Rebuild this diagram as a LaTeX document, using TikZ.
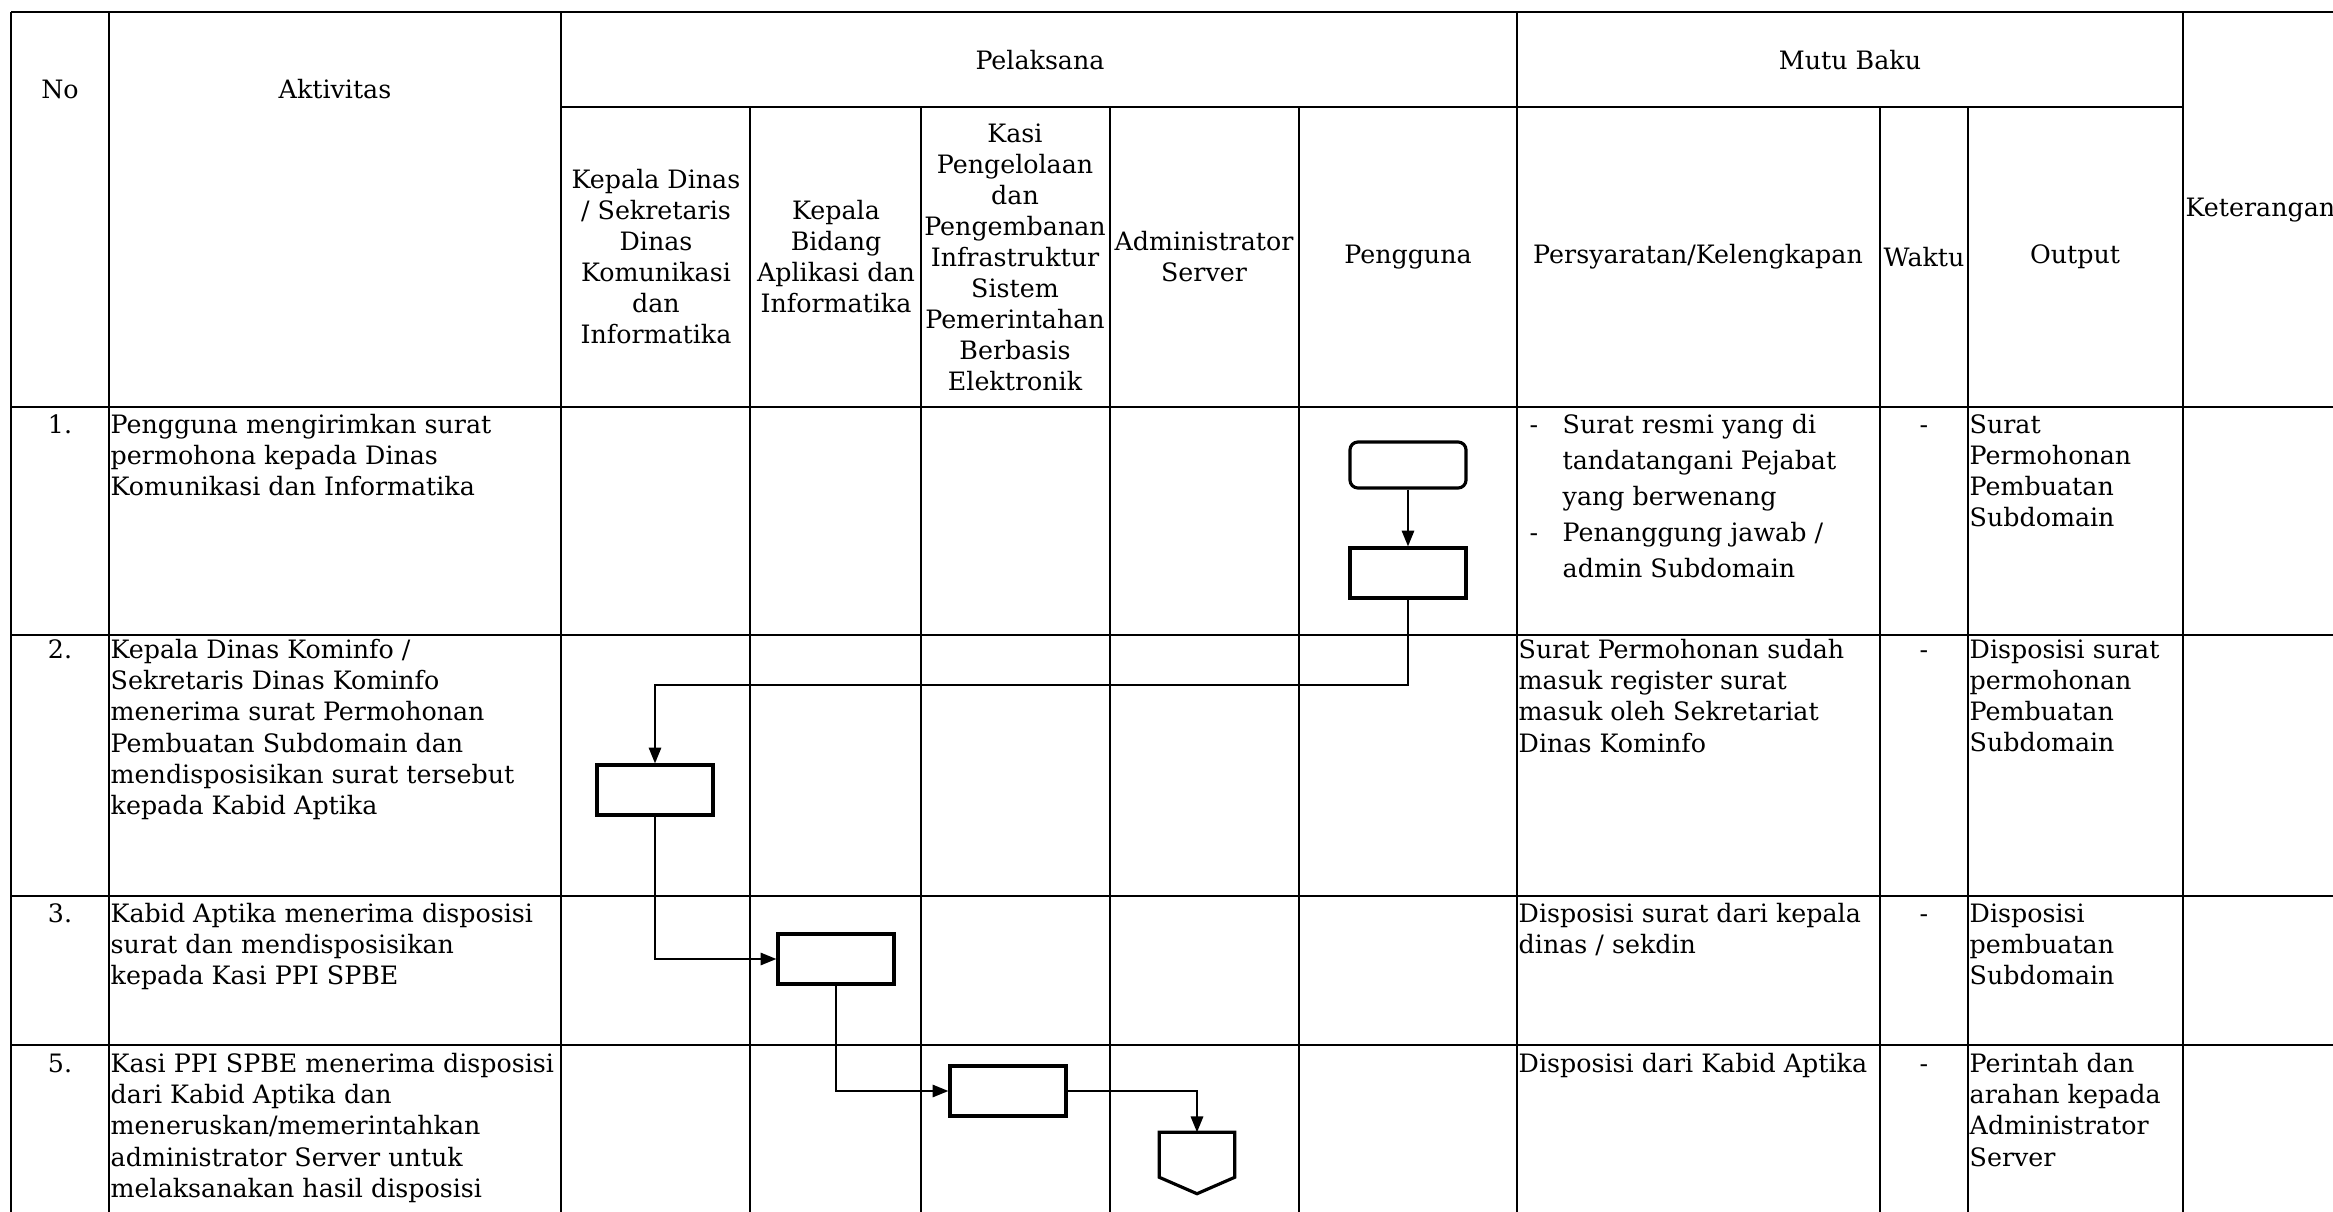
\documentclass[tikz,border=0pt]{standalone}
\usepackage{fontspec}
\setmainfont{DejaVu Serif}
\usetikzlibrary{arrows.meta,calc}
\begin{document}
\begin{tikzpicture}[x=0.01cm,y=-0.01cm,
  tline/.style={line width=0.6pt},
  txt/.style={font=\fontsize{7.2pt}{8.82pt}\selectfont, inner sep=0pt, align=left, anchor=north west},
  hd/.style={font=\fontsize{7.2pt}{8.82pt}\selectfont, inner sep=0pt, align=center},
  dsh/.style={font=\fontsize{7.2pt}{8.82pt}\selectfont, inner sep=0pt, anchor=base},
  lst/.style={font=\fontsize{7.2pt}{10.24pt}\selectfont, inner sep=0pt, align=left, anchor=north west},
  proc/.style={draw, line width=0.9pt, minimum width=1.16cm, minimum height=0.5cm, inner sep=0pt},
  term/.style={proc, minimum height=0.46cm, rounded corners=0.08cm},
  arr/.style={-{Triangle[length=4.5pt,width=3.5pt]}, line width=0.6pt}
]
\useasboundingbox (0,0) rectangle (2333,1212);
% ---------- table lines ----------
\foreach \x in {11,109,561,1517,2183} \draw[tline] (\x,12) -- (\x,1212);
\foreach \x in {750,921,1110,1299,1880,1968} \draw[tline] (\x,107) -- (\x,1212);
\draw[tline] (11,12) -- (2333,12);
\draw[tline] (561,107) -- (2183,107);
\foreach \y in {407,635,896,1045} \draw[line width=0.8pt] (11,\y) -- (2333,\y);
% ---------- header ----------
\node[hd] (hno) at (60,89) {No};
\node[hd] (hakt) at (335,89) {Aktivitas};
\node[hd] (hpel) at (1040,60) {Pelaksana};
\node[hd] (hmutu) at (1850,60) {Mutu Baku};
\node[hd] (hc1) at (656,257) {Kepala Dinas\\/ Sekretaris\\Dinas\\Komunikasi\\dan\\Informatika};
\node[hd] (hc2) at (836,257) {Kepala\\Bidang\\Aplikasi dan\\Informatika};
\node[hd] (hc3) at (1015,257) {Kasi\\Pengelolaan\\dan\\Pengembanan\\Infrastruktur\\Sistem\\Pemerintahan\\Berbasis\\Elektronik};
\node[hd] (hc4) at (1204,257) {Administrator\\Server};
\node[hd] (hc5) at (1408,257) {Pengguna};
\node[hd] (hsyar) at (1698,257) {Persyaratan/Kelengkapan};
\node[hd] (hwak) at (1924,257) {Waktu};
\node[hd] (hout) at (2075,257) {Output};
\node[hd, anchor=west] (hket) at (2185,210) {Keterangan};
% ---------- row numbers ----------
\node[dsh] (n1) at (60,433) {1.};
\node[dsh] (n2) at (60,658) {2.};
\node[dsh] (n3) at (60,922) {3.};
\node[dsh] (n5) at (60,1072) {5.};
% ---------- activities ----------
\node[txt] (a1) at (110,414) {Pengguna mengirimkan surat\\permohona kepada Dinas\\Komunikasi dan Informatika};
\node[txt] (a2) at (110,639) {Kepala Dinas Kominfo /\\Sekretaris Dinas Kominfo\\menerima surat Permohonan\\Pembuatan Subdomain dan\\mendisposisikan surat tersebut\\kepada Kabid Aptika};
\node[txt] (a3) at (110,903) {Kabid Aptika menerima disposisi\\surat dan mendisposisikan\\kepada Kasi PPI SPBE};
\node[txt] (a5) at (110,1053) {Kasi PPI SPBE menerima disposisi\\dari Kabid Aptika dan\\meneruskan/memerintahkan\\administrator Server untuk\\melaksanakan hasil disposisi};
% ---------- requirements ----------
\node[dsh] (d1) at (1534,433) {-};
\node[dsh] (d2) at (1534,541) {-};
\node[lst] (r1) at (1562,414) {Surat resmi yang di\\tandatangani Pejabat\\yang berwenang\\Penanggung jawab /\\admin Subdomain};
\node[txt] (r2) at (1518,639) {Surat Permohonan sudah\\masuk register surat\\masuk oleh Sekretariat\\Dinas Kominfo};
\node[txt] (r3) at (1518,903) {Disposisi surat dari kepala\\dinas / sekdin};
\node[txt] (r5) at (1518,1053) {Disposisi dari Kabid Aptika};
% ---------- waktu ----------
\node[dsh] (w1) at (1924,433) {-};
\node[dsh] (w2) at (1924,658) {-};
\node[dsh] (w3) at (1924,922) {-};
\node[dsh] (w5) at (1924,1072) {-};
% ---------- output ----------
\node[txt] (o1) at (1969,414) {Surat\\Permohonan\\Pembuatan\\Subdomain};
\node[txt] (o2) at (1969,639) {Disposisi surat\\permohonan\\Pembuatan\\Subdomain};
\node[txt] (o3) at (1969,903) {Disposisi\\pembuatan\\Subdomain};
\node[txt] (o5) at (1969,1053) {Perintah dan\\arahan kepada\\Administrator\\Server};
% ---------- flowchart ----------
\node[term] (start) at (1408,465) {};
\node[proc] (p1) at (1408,573) {};
\node[proc] (p2) at (655,790) {};
\node[proc] (p3) at (836,959) {};
\node[proc] (p4) at (1008,1091) {};
\node[minimum width=0.74cm, minimum height=0.6cm, inner sep=0pt] (off) at (1197,1163) {};
\draw[line width=0.9pt] (off.north west) -- (off.north east) -- ($(off.north east)+(0,45)$) -- (off.south) -- ($(off.north west)+(0,45)$) -- cycle;
\draw[arr] (start.south) -- (p1.north);
\draw[arr] (p1.south) -- ++(0,85) -| (p2.north);
\draw[arr] (p2.south) |- (p3.west);
\draw[arr] (p3.south) |- (p4.west);
\draw[arr] (p4.east) -| (off.north);
\end{tikzpicture}
\end{document}
